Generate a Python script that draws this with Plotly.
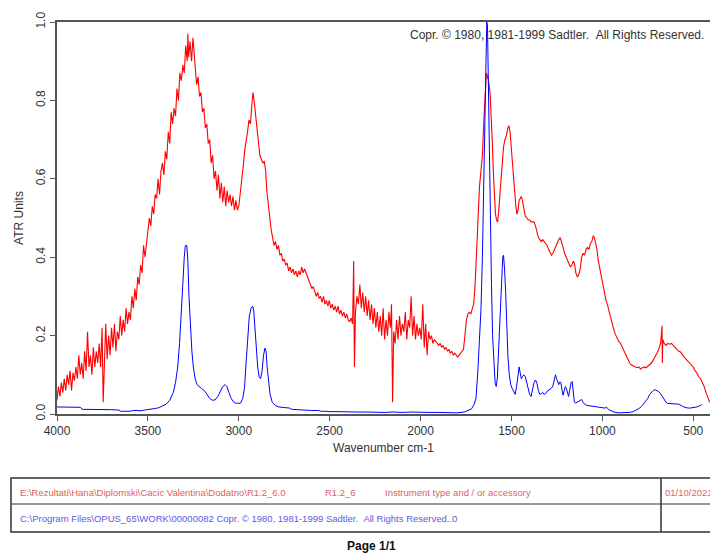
import plotly.graph_objects as go

# ---------------- data ----------------
red_wavenumber = [
    4000, 3992, 3984, 3976, 3968, 3960, 3952, 3944, 3936, 3928, 3920, 3912, 3904, 3896, 3888, 3880,
    3872, 3864, 3856, 3848, 3840, 3832, 3824, 3816, 3808, 3800, 3792, 3784, 3776, 3768, 3760, 3752,
    3746, 3740, 3732, 3724, 3716, 3708, 3700, 3692, 3684, 3676, 3668, 3660, 3652, 3644, 3636, 3628,
    3620, 3612, 3604, 3596, 3588, 3580, 3572, 3564, 3556, 3548, 3540, 3532, 3524, 3516, 3508, 3500,
    3492, 3484, 3476, 3468, 3460, 3452, 3444, 3436, 3428, 3420, 3412, 3404, 3396, 3388, 3380, 3372,
    3364, 3356, 3348, 3340, 3332, 3324, 3316, 3308, 3300, 3292, 3284, 3280, 3276, 3268, 3260, 3252,
    3246, 3240, 3232, 3224, 3216, 3208, 3200, 3192, 3184, 3176, 3168, 3160, 3152, 3144, 3136, 3128,
    3120, 3112, 3104, 3096, 3088, 3080, 3072, 3064, 3056, 3048, 3040, 3032, 3024, 3016, 3008, 3000,
    2992, 2984, 2976, 2968, 2960, 2952, 2944, 2936, 2928, 2922, 2916, 2908, 2900, 2892, 2884, 2876,
    2868, 2860, 2852, 2846, 2838, 2830, 2822, 2814, 2806, 2798, 2790, 2782, 2774, 2766, 2758, 2750,
    2742, 2734, 2726, 2718, 2710, 2702, 2694, 2686, 2678, 2670, 2662, 2654, 2646, 2638, 2630, 2622,
    2614, 2606, 2598, 2590, 2582, 2574, 2566, 2558, 2550, 2542, 2534, 2526, 2518, 2510, 2502, 2494,
    2486, 2478, 2470, 2462, 2454, 2446, 2438, 2430, 2422, 2414, 2406, 2398, 2390, 2382, 2374, 2368,
    2364, 2358, 2350, 2342, 2334, 2326, 2318, 2310, 2302, 2294, 2286, 2278, 2270, 2262, 2254, 2246,
    2238, 2230, 2222, 2214, 2206, 2198, 2190, 2182, 2174, 2166, 2160, 2154, 2148, 2140, 2132, 2124,
    2116, 2108, 2100, 2092, 2084, 2076, 2068, 2060, 2052, 2044, 2036, 2028, 2020, 2012, 2004, 1996,
    1988, 1980, 1972, 1964, 1956, 1948, 1940, 1932, 1924, 1916, 1908, 1900, 1892, 1884, 1876, 1868,
    1860, 1852, 1844, 1836, 1828, 1820, 1812, 1804, 1796, 1788, 1780, 1772, 1764, 1756, 1748, 1740,
    1732, 1724, 1716, 1708, 1700, 1692, 1684, 1676, 1668, 1660, 1652, 1644, 1638, 1632, 1626, 1618,
    1612, 1606, 1600, 1594, 1588, 1582, 1576, 1570, 1564, 1558, 1552, 1544, 1536, 1528, 1520, 1514,
    1508, 1500, 1494, 1488, 1482, 1476, 1470, 1464, 1458, 1452, 1446, 1440, 1432, 1424, 1416, 1408,
    1400, 1392, 1384, 1376, 1368, 1360, 1352, 1344, 1336, 1328, 1320, 1312, 1304, 1296, 1288, 1280,
    1272, 1264, 1256, 1248, 1240, 1232, 1224, 1216, 1208, 1200, 1192, 1184, 1176, 1168, 1160, 1154,
    1146, 1138, 1130, 1122, 1114, 1106, 1098, 1090, 1082, 1074, 1066, 1058, 1050, 1044, 1038, 1030,
    1022, 1014, 1006, 998, 990, 980, 970, 960, 950, 940, 930, 920, 910, 900, 890, 880,
    870, 860, 850, 840, 830, 820, 810, 800, 790, 780, 770, 760, 750, 740, 730, 720,
    710, 700, 690, 680, 676, 672, 670, 668, 660, 650, 640, 630, 620, 610, 600, 590,
    580, 570, 560, 550, 540, 530, 520, 510, 500, 490, 480, 470, 460, 450, 440, 430,
    420, 410,
]
red_absorbance = [
    0.035, 0.07, 0.045, 0.08, 0.055, 0.09, 0.06, 0.10, 0.075, 0.11, 0.06, 0.105, 0.085, 0.12, 0.09, 0.15,
    0.10, 0.13, 0.09, 0.16, 0.11, 0.21, 0.12, 0.15, 0.10, 0.17, 0.12, 0.16, 0.13, 0.18, 0.12, 0.22,
    0.03, 0.15, 0.23, 0.14, 0.20, 0.15, 0.22, 0.17, 0.23, 0.16, 0.21, 0.19, 0.25, 0.20, 0.24, 0.21,
    0.27, 0.23, 0.26, 0.24, 0.30, 0.27, 0.32, 0.29, 0.35, 0.33, 0.38, 0.36, 0.43, 0.40, 0.44, 0.47,
    0.50, 0.48, 0.53, 0.51, 0.56, 0.55, 0.60, 0.56, 0.62, 0.64, 0.61, 0.67, 0.65, 0.72, 0.69, 0.77,
    0.74, 0.78, 0.76, 0.83, 0.80, 0.87, 0.85, 0.89, 0.87, 0.94, 0.90, 0.97, 0.91, 0.95, 0.90, 0.96,
    0.92, 0.89, 0.84, 0.86, 0.81, 0.82, 0.77, 0.78, 0.73, 0.74, 0.69, 0.70, 0.64, 0.66, 0.60, 0.62,
    0.57, 0.61, 0.55, 0.59, 0.54, 0.58, 0.53, 0.57, 0.54, 0.56, 0.53, 0.555, 0.52, 0.545, 0.52, 0.53,
    0.56, 0.59, 0.63, 0.67, 0.69, 0.72, 0.75, 0.74, 0.79, 0.82, 0.80, 0.76, 0.72, 0.69, 0.66, 0.65,
    0.64, 0.645, 0.62, 0.57, 0.53, 0.50, 0.47, 0.45, 0.43, 0.44, 0.42, 0.43, 0.405, 0.41, 0.39, 0.395,
    0.38, 0.385, 0.365, 0.375, 0.36, 0.37, 0.355, 0.365, 0.35, 0.365, 0.355, 0.375, 0.36, 0.37, 0.36, 0.355,
    0.34, 0.33, 0.32, 0.325, 0.31, 0.30, 0.31, 0.295, 0.30, 0.285, 0.30, 0.28, 0.29, 0.275, 0.29, 0.27,
    0.28, 0.265, 0.275, 0.26, 0.275, 0.255, 0.265, 0.25, 0.26, 0.245, 0.255, 0.24, 0.235, 0.245, 0.23, 0.39,
    0.12, 0.26, 0.30, 0.28, 0.33, 0.27, 0.31, 0.26, 0.30, 0.25, 0.29, 0.24, 0.28, 0.23, 0.27, 0.22,
    0.26, 0.21, 0.25, 0.20, 0.27, 0.19, 0.24, 0.20, 0.26, 0.22, 0.28, 0.03, 0.21, 0.18, 0.24, 0.19,
    0.25, 0.20, 0.23, 0.21, 0.26, 0.19, 0.24, 0.22, 0.30, 0.20, 0.25, 0.19, 0.23, 0.20, 0.22, 0.19,
    0.28, 0.17, 0.23, 0.15, 0.21, 0.19, 0.20, 0.18, 0.19, 0.185, 0.18, 0.175, 0.18, 0.17, 0.175, 0.165,
    0.17, 0.16, 0.165, 0.155, 0.16, 0.15, 0.155, 0.15, 0.145, 0.15, 0.155, 0.16, 0.165, 0.20, 0.24, 0.255,
    0.26, 0.255, 0.27, 0.28, 0.33, 0.42, 0.52, 0.58, 0.62, 0.66, 0.75, 0.82, 0.87, 0.86, 0.85, 0.82,
    0.77, 0.70, 0.62, 0.55, 0.51, 0.495, 0.49, 0.52, 0.56, 0.60, 0.63, 0.68, 0.70, 0.71, 0.73, 0.735,
    0.72, 0.67, 0.63, 0.60, 0.57, 0.53, 0.51, 0.52, 0.545, 0.55, 0.555, 0.545, 0.52, 0.505, 0.50, 0.495,
    0.495, 0.49, 0.49, 0.49, 0.48, 0.46, 0.45, 0.445, 0.44, 0.445, 0.44, 0.435, 0.43, 0.42, 0.41, 0.405,
    0.41, 0.42, 0.43, 0.435, 0.445, 0.45, 0.44, 0.425, 0.41, 0.40, 0.39, 0.38, 0.375, 0.38, 0.39, 0.385,
    0.36, 0.35, 0.355, 0.37, 0.40, 0.41, 0.405, 0.42, 0.425, 0.42, 0.435, 0.44, 0.455, 0.45, 0.44, 0.42,
    0.39, 0.37, 0.35, 0.33, 0.31, 0.29, 0.275, 0.255, 0.235, 0.22, 0.205, 0.195, 0.185, 0.18, 0.17, 0.16,
    0.15, 0.14, 0.13, 0.125, 0.122, 0.12, 0.118, 0.12, 0.115, 0.118, 0.12, 0.118, 0.122, 0.125, 0.13, 0.138,
    0.145, 0.155, 0.165, 0.18, 0.20, 0.225, 0.13, 0.19, 0.18, 0.175, 0.18, 0.178, 0.18, 0.175, 0.17, 0.165,
    0.16, 0.158, 0.15, 0.145, 0.14, 0.135, 0.13, 0.125, 0.12, 0.11, 0.105, 0.095, 0.09, 0.08, 0.07, 0.055,
    0.04, 0.03,
]

blue_wavenumber = [
    4000, 3950, 3900, 3870, 3862, 3800, 3750, 3700, 3660, 3650, 3600, 3580, 3560, 3540, 3520, 3500,
    3480, 3460, 3440, 3420, 3400, 3380, 3360, 3348, 3336, 3326, 3316, 3308, 3300, 3294, 3286, 3280,
    3274, 3266, 3258, 3250, 3240, 3230, 3220, 3205, 3190, 3175, 3160, 3145, 3130, 3115, 3100, 3088,
    3076, 3066, 3054, 3044, 3032, 3020, 3000, 2990, 2978, 2968, 2960, 2950, 2942, 2932, 2924, 2918,
    2912, 2904, 2896, 2888, 2880, 2872, 2864, 2856, 2850, 2844, 2836, 2828, 2816, 2800, 2780, 2760,
    2740, 2720, 2710, 2680, 2650, 2600, 2560, 2550, 2520, 2500, 2450, 2400, 2350, 2300, 2250, 2200,
    2150, 2100, 2050, 2000, 1950, 1900, 1850, 1800, 1760, 1740, 1720, 1705, 1695, 1685, 1675, 1668,
    1660, 1654, 1648, 1642, 1636, 1632, 1628, 1622, 1616, 1610, 1604, 1598, 1590, 1584, 1578, 1572,
    1566, 1560, 1554, 1548, 1544, 1538, 1532, 1526, 1520, 1512, 1504, 1496, 1488, 1480, 1472, 1464,
    1458, 1452, 1446, 1440, 1432, 1424, 1416, 1408, 1400, 1392, 1384, 1376, 1368, 1360, 1352, 1344,
    1336, 1328, 1320, 1312, 1304, 1296, 1288, 1280, 1272, 1264, 1258, 1252, 1246, 1240, 1234, 1228,
    1222, 1216, 1210, 1204, 1198, 1192, 1186, 1180, 1172, 1166, 1160, 1154, 1146, 1138, 1130, 1122,
    1114, 1106, 1098, 1085, 1070, 1050, 1030, 1010, 995, 985, 978, 972, 960, 945, 930, 910,
    890, 870, 850, 830, 810, 795, 780, 765, 750, 740, 730, 720, 710, 700, 690, 680,
    670, 660, 650, 640, 620, 600, 580, 560, 540, 520, 500, 480, 460, 452,
]
blue_absorbance = [
    0.018, 0.018, 0.017, 0.017, 0.012, 0.012, 0.011, 0.011, 0.010, 0.007, 0.007, 0.009, 0.009, 0.008, 0.010, 0.011,
    0.012, 0.014, 0.016, 0.020, 0.025, 0.035, 0.055, 0.08, 0.12, 0.18, 0.25, 0.33, 0.40, 0.43, 0.43, 0.39,
    0.30, 0.22, 0.16, 0.12, 0.09, 0.075, 0.07, 0.065, 0.06, 0.05, 0.04, 0.035, 0.036, 0.045, 0.06, 0.07,
    0.075, 0.07, 0.055, 0.042, 0.032, 0.028, 0.027, 0.028, 0.04, 0.07, 0.13, 0.21, 0.25, 0.27, 0.275, 0.265,
    0.22, 0.17, 0.12, 0.095, 0.09, 0.11, 0.15, 0.168, 0.16, 0.12, 0.08, 0.05, 0.03, 0.022, 0.018, 0.017,
    0.016, 0.015, 0.012, 0.011, 0.010, 0.009, 0.009, 0.007, 0.007, 0.006, 0.006, 0.005, 0.005, 0.005, 0.004, 0.004,
    0.005, 0.004, 0.005, 0.004, 0.004, 0.004, 0.004, 0.003, 0.005, 0.008, 0.013, 0.025, 0.04, 0.11, 0.20, 0.265,
    0.40, 0.55, 0.75, 0.90, 1.0, 0.99, 0.85, 0.70, 0.50, 0.33, 0.20, 0.13, 0.08, 0.07, 0.09, 0.15,
    0.22, 0.28, 0.35, 0.40, 0.405, 0.37, 0.31, 0.22, 0.15, 0.10, 0.075, 0.065, 0.055, 0.05, 0.07, 0.10,
    0.12, 0.105, 0.09, 0.095, 0.10, 0.095, 0.08, 0.065, 0.05, 0.045, 0.06, 0.08, 0.087, 0.078, 0.06, 0.05,
    0.052, 0.055, 0.05, 0.052, 0.058, 0.06, 0.062, 0.066, 0.072, 0.085, 0.10, 0.09, 0.08, 0.075, 0.082, 0.08,
    0.06, 0.048, 0.06, 0.07, 0.065, 0.05, 0.045, 0.06, 0.08, 0.083, 0.06, 0.03, 0.028, 0.03, 0.033, 0.036,
    0.037, 0.03, 0.025, 0.022, 0.021, 0.02, 0.019, 0.017, 0.015, 0.015, 0.018, 0.014, 0.01, 0.006, 0.004, 0.003,
    0.003, 0.003, 0.004, 0.006, 0.01, 0.015, 0.022, 0.03, 0.04, 0.05, 0.056, 0.06, 0.062, 0.06, 0.057, 0.052,
    0.045, 0.035, 0.03, 0.027, 0.026, 0.025, 0.025, 0.02, 0.016, 0.015, 0.017, 0.018, 0.022, 0.024,
]

x_ticks = [4000, 3500, 3000, 2500, 2000, 1500, 1000, 500]
y_ticks = [0.0, 0.2, 0.4, 0.6, 0.8, 1.0]
y_tick_labels = ["0.0", "0.2", "0.4", "0.6", "0.8", "1.0"]

copyright_text = "Copr. \u00a9 1980, 1981-1999 Sadtler.\u00a0\u00a0All Rights Reserved."
row1_texts = [
    "E:\\Rezultati\\Hana\\Diplomski\\Cacic Valentina\\Dodatno\\R1.2_6.0",
    "R1.2_6",
    "Instrument type and / or accessory",
    "01/10/2021",
]
row2_text = "C:\\Program Files\\OPUS_65\\WORK\\00000082 Copr. \u00a9 1980, 1981-1999 Sadtler.\u00a0\u00a0All Rights Reserved..0"
page_text = "Page 1/1"

# ---------------- figure ----------------
W, H = 710, 554
L, R, T, B = 57, 0, 22, 140
PW = W - L - R
PH = H - T - B


def px_x(x):
    return (x - L) / PW


def px_y(y):
    return (H - B - y) / PH


FONT = "Liberation Sans, Arial, sans-serif"
AXIS_COLOR = "#555555"

fig = go.Figure()
fig.add_trace(go.Scatter(x=red_wavenumber, y=red_absorbance, mode="lines",
                         line=dict(color="#ff0000", width=1.1), hoverinfo="skip"))
fig.add_trace(go.Scatter(x=blue_wavenumber, y=blue_absorbance, mode="lines",
                         line=dict(color="#0000ff", width=1), hoverinfo="skip"))

fig.update_layout(
    width=W, height=H,
    margin=dict(l=L, r=R, t=T, b=B, pad=0),
    paper_bgcolor="white", plot_bgcolor="white",
    showlegend=False,
    font=dict(family=FONT, size=12, color="#333333"),
    xaxis=dict(
        range=[4000, 408], autorange=False,
        tickmode="array", tickvals=x_ticks,
        ticks="outside", ticklen=5, tickcolor=AXIS_COLOR, tickwidth=1,
        showline=True, linecolor=AXIS_COLOR, linewidth=1.5, mirror=True,
        showgrid=False, zeroline=False,
        tickfont=dict(size=12, color="#333333"),
        title=dict(text="Wavenumber cm-1", font=dict(size=12, color="#333333"), standoff=6),
    ),
    yaxis=dict(
        range=[0, 1.0], autorange=False,
        tickmode="array", tickvals=y_ticks, ticktext=y_tick_labels,
        tickangle=-90,
        ticks="outside", ticklen=5, tickcolor=AXIS_COLOR, tickwidth=1,
        showline=True, linecolor=AXIS_COLOR, linewidth=1.5, mirror=False,
        showgrid=False, zeroline=False,
        tickfont=dict(size=12, color="#333333"),
        title=dict(text="ATR Units", font=dict(size=12, color="#333333"), standoff=8),
    ),
)

# copyright inside plot
fig.add_annotation(text=copyright_text, xref="paper", yref="paper",
                   x=px_x(706), y=px_y(35), xanchor="right", yanchor="middle",
                   showarrow=False, font=dict(family=FONT, size=12, color="#333333"))

# footer table
tbl_left, tbl_right = 11, 716
tbl_top, tbl_mid, tbl_bot = 478, 504, 532
tbl_div = 661
line_style = dict(color="#333333", width=1.5)
fig.add_shape(type="rect", xref="paper", yref="paper",
              x0=px_x(tbl_left), x1=px_x(tbl_right), y0=px_y(tbl_top), y1=px_y(tbl_bot),
              line=line_style, layer="above")
fig.add_shape(type="line", xref="paper", yref="paper",
              x0=px_x(tbl_left), x1=px_x(tbl_right), y0=px_y(tbl_mid), y1=px_y(tbl_mid),
              line=dict(color="#333333", width=1))
fig.add_shape(type="line", xref="paper", yref="paper",
              x0=px_x(tbl_div), x1=px_x(tbl_div), y0=px_y(tbl_top), y1=px_y(tbl_bot),
              line=line_style)

red_text = "#e06060"
blue_text = "#5a5ae6"
row1_x = [18, 323, 383, 663]
for txt, xx in zip(row1_texts, row1_x):
    fig.add_annotation(text=txt, xref="paper", yref="paper", x=px_x(xx), y=px_y(492),
                       xanchor="left", yanchor="middle", showarrow=False,
                       font=dict(family=FONT, size=9.5, color=red_text))
fig.add_annotation(text=row2_text, xref="paper", yref="paper", x=px_x(18), y=px_y(518),
                   xanchor="left", yanchor="middle", showarrow=False,
                   font=dict(family=FONT, size=9.5, color=blue_text))
fig.add_annotation(text="<b>" + page_text + "</b>", xref="paper", yref="paper",
                   x=px_x(345), y=px_y(546), xanchor="left", yanchor="middle", showarrow=False,
                   font=dict(family=FONT, size=12, color="#111111"))

fig.write_html("out.html", config={"displayModeBar": False},
               post_script="document.body.style.margin='0';document.body.style.overflow='hidden';")
